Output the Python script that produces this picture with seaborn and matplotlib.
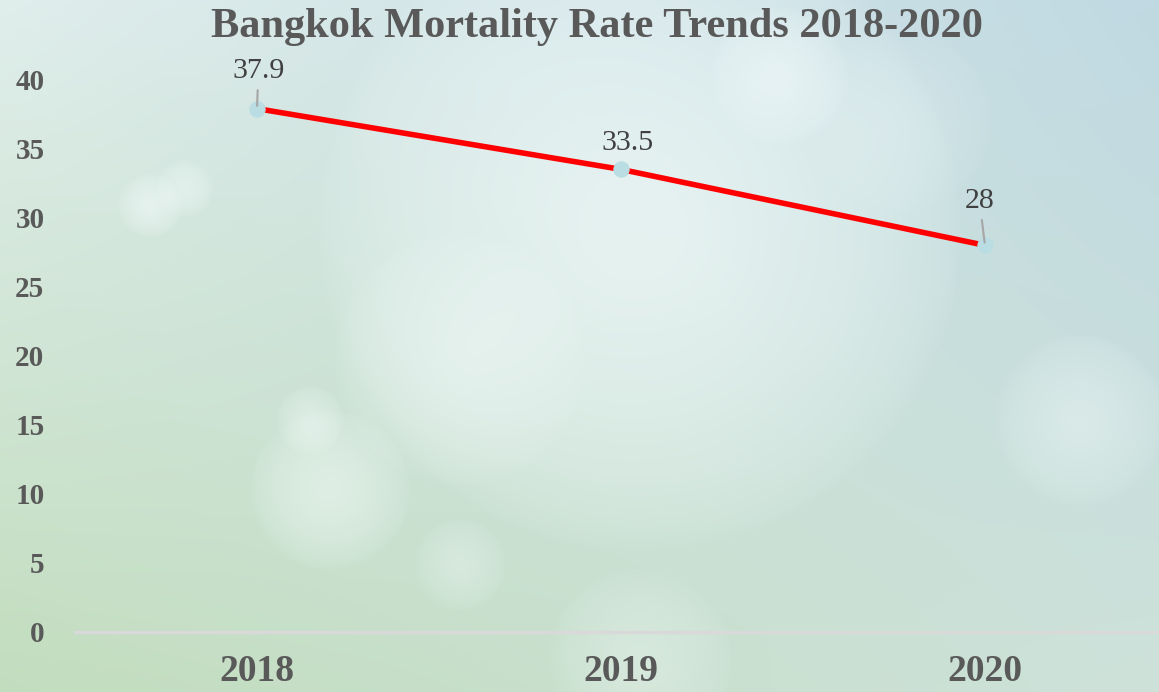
import numpy as np
import pandas as pd
import seaborn as sns
import matplotlib.pyplot as plt

# data
years = ["2018", "2019", "2020"]
mortality = [37.9, 33.5, 28]
y_ticks = [0, 5, 10, 15, 20, 25, 30, 35, 40]

df = pd.DataFrame({"year": years, "rate": mortality})

sns.set_theme(style="white")
plt.rcParams["font.family"] = ["Liberation Serif", "DejaVu Serif"]

W, H = 1159, 692
fig = plt.figure(figsize=(W / 100, H / 100), dpi=100)

# soft bokeh-like background
yy, xx = np.mgrid[0:H, 0:W]
u, v = xx / W, yy / H
tl = np.array([224, 238, 236])
tr = np.array([192, 217, 226])
bl = np.array([194, 221, 190])
br = np.array([206, 226, 218])
bg = ((1 - u)[..., None] * (1 - v)[..., None] * tl + u[..., None] * (1 - v)[..., None] * tr
      + (1 - u)[..., None] * v[..., None] * bl + u[..., None] * v[..., None] * br)
glows = [(640, 230, 280, 0.6), (460, 360, 110, 0.35), (330, 490, 70, 0.45),
         (780, 75, 60, 0.45), (150, 205, 28, 0.5), (185, 188, 25, 0.4),
         (1080, 420, 75, 0.35), (460, 565, 40, 0.3), (640, 660, 80, 0.3),
         (900, 120, 80, 0.2), (310, 420, 30, 0.4)]
for cx, cy, r, a in glows:
    d = np.sqrt((xx - cx) ** 2 + (yy - cy) ** 2) / r
    w = a * np.clip(1.15 - d, 0, 1) ** 0.6
    w = np.clip(w, 0, 1)[..., None]
    bg = bg * (1 - w) + np.array([245, 252, 252]) * w
bax = fig.add_axes([0, 0, 1, 1])
bax.imshow(bg.astype(np.uint8), aspect="auto")
bax.axis("off")

# main axes: x from 75px to right edge, y=0 at 632px
left, bottom = 75 / W, (H - 632) / H
ax = fig.add_axes([left, bottom, 1 - left, (632 - 52) / H])
ax.set_facecolor("none")

sns.lineplot(data=df, x="year", y="rate", ax=ax, color="#FF0000", linewidth=4,
             marker="o", markersize=11, markerfacecolor="#B9DDE3",
             markeredgecolor="#B9DDE3", sort=False)

ax.set_xlim(-0.5, 2 + (1159 - 985) / 364)
ax.set_ylim(0, 42)
ax.set_yticks(y_ticks)
ax.set_xlabel("")
ax.set_ylabel("")
for s in ax.spines.values():
    s.set_visible(False)
ax.axhline(0, color="#D9D9D9", linewidth=2.5, clip_on=False)
ax.tick_params(axis="both", length=0, colors="#595959")
ax.tick_params(axis="y", labelsize=21, pad=22)
ax.tick_params(axis="x", labelsize=27, pad=16)
for lab in ax.get_xticklabels() + ax.get_yticklabels():
    lab.set_fontweight("bold")

# value labels
offsets = [(1, 27), (5, 19), (-4, 32)]
for i, (val, off) in enumerate(zip(mortality, offsets)):
    arrow = dict(arrowstyle="-", color="#A6A6A6", lw=1.5, shrinkA=2, shrinkB=2) if i != 1 else None
    ax.annotate(f"{val:g}", xy=(i, val), xytext=off, textcoords="offset points",
                ha="center", va="center", fontsize=21.5, color="#404040",
                arrowprops=arrow)

fig.text(597 / W, 1 - 27 / H, "Bangkok Mortality Rate Trends 2018-2020",
         ha="center", va="center", fontsize=30.5, fontweight="bold", color="#595959")

fig.savefig("out.png", dpi=100)
